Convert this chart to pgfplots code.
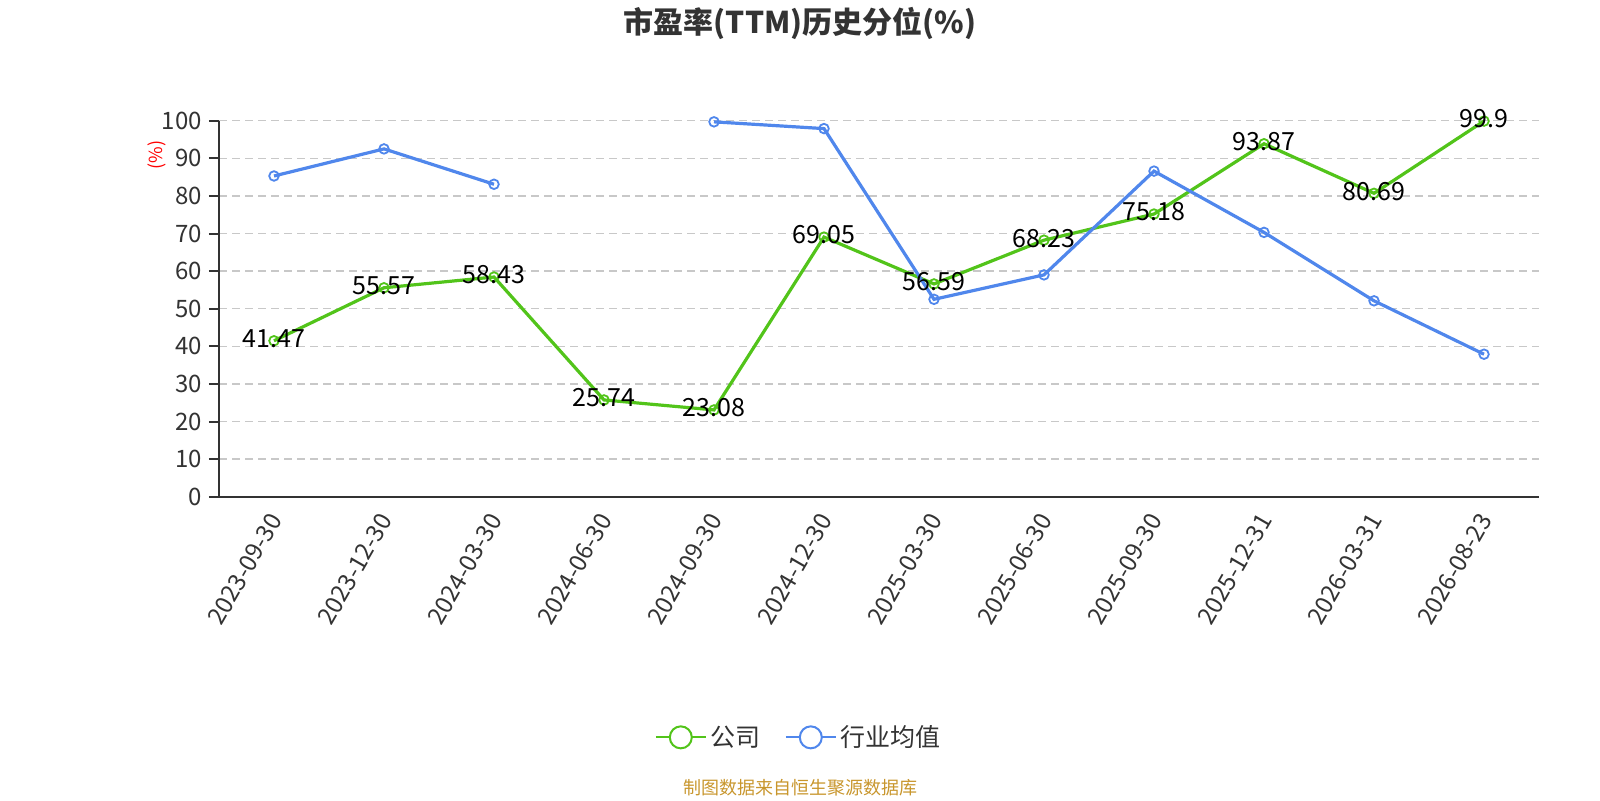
\documentclass[border=0pt]{standalone}
\usepackage{fontspec}
\setmainfont{Noto Sans CJK SC}
\usepackage{pgfplots}
\pgfplotsset{compat=1.18}

\definecolor{cgreen}{HTML}{52C41A}
\definecolor{cblue}{HTML}{5087EC}
\definecolor{caxis}{HTML}{333333}
\definecolor{cgrid}{HTML}{C8C8C8}
\definecolor{csrc}{HTML}{C8962D}

\begin{document}
\begin{tikzpicture}
% page = 1600x800 px, 1px = 0.5pt; axis box at px (219,120.7)-(1539,496.7)
\path[use as bounding box] (-109.5pt,-151.65pt) rectangle (690.5pt,248.35pt);
\begin{axis}[
  at={(0,0)}, anchor=south west,
  scale only axis, width=660pt, height=188pt,
  xmin=-0.5, xmax=11.5, ymin=0, ymax=100,
  /pgf/number format/assume math mode=true,
  axis x line*=bottom, axis y line*=left,
  axis line style={caxis, line width=1pt, -},
  xtick={0,...,11},
  xticklabels={2023-09-30,2023-12-30,2024-03-30,2024-06-30,2024-09-30,2024-12-30,2025-03-30,2025-06-30,2025-09-30,2025-12-31,2026-03-31,2026-08-23},
  x tick label style={rotate=60, anchor=east, font=\fontsize{12pt}{14pt}\selectfont, text=caxis, yshift=-3pt},
  x tick style={draw=none},
  extra x ticks={-0.5,0.5,...,11.5},
  extra x tick labels={},
  extra x tick style={tick style={draw=caxis, line width=1pt}, major tick length=5pt, tick align=outside},
  ytick={0,10,...,100},
  y tick label style={font=\fontsize{12pt}{14pt}\selectfont, text=caxis},
  y tick style={draw=caxis, line width=1pt},
  tick align=outside, major tick length=5pt,
  ymajorgrids,
  major grid style={cgrid, line width=0.7pt, dash pattern=on 4pt off 2.5pt},
  ylabel={(\%)},
  ylabel style={at={(axis description cs:-0.047,0.909)}, anchor=center, rotate=0, text=red, font=\fontsize{9pt}{10pt}\selectfont},
  unbounded coords=jump,
  legend style={at={(axis description cs:0.44,-0.64)}, anchor=center, draw=none, fill=none,
    legend columns=2, font=\fontsize{12.5pt}{14pt}\selectfont, text=caxis,
    /tikz/every even column/.append style={column sep=10pt}},
  legend image code/.code={
    \draw[line width=1pt] (0pt,0pt) -- (25pt,0pt);
    \draw[line width=1pt, fill=white] (12.5pt,0pt) circle (5.5pt);
  },
  clip=false,
]

\addplot[cgreen, line width=1.6pt, mark=o, mark size=2.4pt,
  mark options={fill=white, line width=0.9pt},
  nodes near coords, point meta=explicit symbolic,
  every node near coord/.append style={anchor=center, yshift=1pt, text=black, font=\fontsize{12.5pt}{14pt}\selectfont}
] coordinates {
  (0, 41.47) [41.47]
  (1, 55.57) [55.57]
  (2, 58.43) [58.43]
  (3, 25.74) [25.74]
  (4, 23.08) [23.08]
  (5, 69.05) [69.05]
  (6, 56.59) [56.59]
  (7, 68.23) [68.23]
  (8, 75.18) [75.18]
  (9, 93.87) [93.87]
  (10, 80.69) [80.69]
  (11, 99.9) [99.9]
};
\addlegendentry{公司}

\addplot[cblue, line width=1.6pt, mark=o, mark size=2.4pt,
  mark options={fill=white, line width=0.9pt}
] coordinates {
  (0, 85.3)
  (1, 92.5)
  (2, 83.1)
  (3, nan)
  (4, 99.7)
  (5, 97.9)
  (6, 52.5)
  (7, 59.0)
  (8, 86.6)
  (9, 70.3)
  (10, 52.1)
  (11, 37.9)
};
\addlegendentry{行业均值}

\end{axis}
\node[font=\bfseries\fontsize{15pt}{18pt}\selectfont, text=caxis] at (290.5pt,236.85pt) {市盈率(TTM)历史分位(\%)};
\node[font=\fontsize{9pt}{11pt}\selectfont, text=csrc] at (290.5pt,-145.65pt) {制图数据来自恒生聚源数据库};
\end{tikzpicture}
\end{document}
